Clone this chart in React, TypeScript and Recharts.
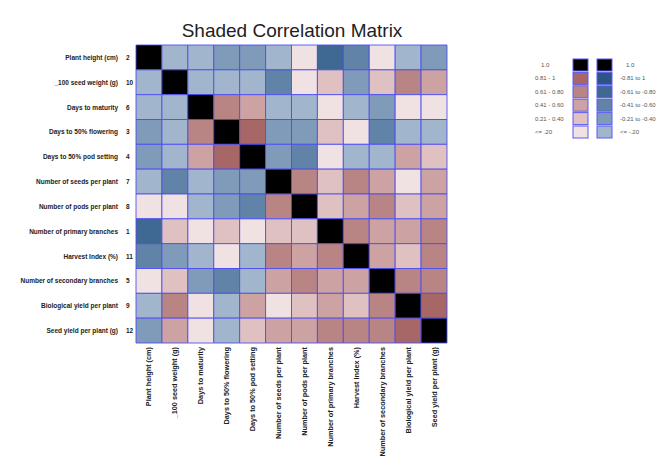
import { ScatterChart, Scatter, XAxis, YAxis, ReferenceArea } from "recharts";

const traits = [
  "Plant height (cm)",
  "_100 seed weight (g)",
  "Days to maturity",
  "Days to 50% flowering",
  "Days to 50% pod setting",
  "Number of seeds per plant",
  "Number of pods per plant",
  "Number of primary branches",
  "Harvest Index (%)",
  "Number of secondary branches",
  "Biological yield per plant",
  "Seed yield per plant (g)",
];
const traitCodes = [2, 10, 6, 3, 4, 7, 8, 1, 11, 5, 9, 12];

// correlations estimated from the shade class of each cell
const corr = [
  [1, -0.12, -0.12, -0.3, -0.3, -0.12, 0.12, -0.7, -0.5, 0.12, -0.12, -0.3],
  [-0.12, 1, -0.12, -0.12, -0.12, -0.5, 0.12, 0.3, -0.3, 0.3, 0.7, 0.5],
  [-0.12, -0.12, 1, 0.7, 0.5, -0.12, -0.12, 0.12, -0.12, -0.3, 0.12, 0.12],
  [-0.3, -0.12, 0.7, 1, 0.85, -0.3, -0.3, 0.3, 0.12, -0.5, -0.12, -0.12],
  [-0.3, -0.12, 0.5, 0.85, 1, -0.3, -0.5, 0.12, -0.12, -0.12, 0.5, 0.3],
  [-0.12, -0.5, -0.12, -0.3, -0.3, 1, 0.7, 0.3, 0.7, 0.5, 0.12, 0.5],
  [0.12, 0.12, -0.12, -0.3, -0.5, 0.7, 1, 0.3, 0.5, 0.7, 0.3, 0.5],
  [-0.7, 0.3, 0.12, 0.3, 0.12, 0.3, 0.3, 1, 0.7, 0.5, 0.5, 0.7],
  [-0.5, -0.3, -0.12, 0.12, -0.12, 0.7, 0.5, 0.7, 1, 0.5, 0.3, 0.7],
  [0.12, 0.3, -0.3, -0.5, -0.12, 0.5, 0.7, 0.5, 0.5, 1, 0.7, 0.7],
  [-0.12, 0.7, 0.12, -0.12, 0.5, 0.12, 0.3, 0.5, 0.3, 0.7, 1, 0.85],
  [-0.3, 0.5, 0.12, -0.12, 0.3, 0.5, 0.5, 0.7, 0.7, 0.7, 0.85, 1],
];

const posLabels = ["1.0", "0.81 - 1", "0.61 - 0.80", "0.41 - 0.60", "0.21 - 0.40", "<= .20"];
const negLabels = ["1.0", "-0.81 to 1", "-0.61 to -0.80", "-0.41 to -0.60", "-0.21 to -0.40", "<= -.20"];
const posColors = ["#000000", "#a86767", "#b98484", "#cca2a2", "#dfc1c1", "#f0e1e2"];
const negColors = ["#000000", "#2c5583", "#3f6992", "#6183a8", "#809bba", "#a1b5cc"];

const edges = [0.8, 0.6, 0.4, 0.2];

function shade(r: number) {
  if (r >= 0.999) return "#000000";
  const a = Math.abs(r);
  let k = 5;
  for (let i = 0; i < edges.length; i++) {
    if (a > edges[i]) {
      k = i + 1;
      break;
    }
  }
  return r >= 0 ? posColors[k] : negColors[k];
}

const cells = corr.flatMap((row, i) => row.map((r, j) => ({ x: j + 0.5, y: i + 0.5, r, i, j })));
const ticks = traits.map((_, i) => i + 0.5);

const labelFont = "'Liberation Sans', Arial, sans-serif";

function RowTick(props: any) {
  const { x, y, payload } = props;
  const idx = Math.floor(payload.value);
  return (
    <g>
      <text x={x - 18} y={y} textAnchor="end" dominantBaseline="central" fontSize={6.5} fontWeight="bold" fill="#222" fontFamily={labelFont}>
        {traits[idx]}
      </text>
      <text x={x - 10} y={y} textAnchor="start" dominantBaseline="central" fontSize={6.5} fontWeight="bold" fill="#222" fontFamily={labelFont}>
        {traitCodes[idx]}
      </text>
    </g>
  );
}

function ColTick(props: any) {
  const { x, y, payload } = props;
  const idx = Math.floor(payload.value);
  return (
    <text
      transform={`translate(${x},${y}) rotate(-90)`}
      textAnchor="end"
      dominantBaseline="central"
      fontSize={7.3}
      fontWeight="bold"
      fill="#222"
      fontFamily={labelFont}
    >
      {traits[idx]}
    </text>
  );
}

function ShadeLegend() {
  const top = 65;
  const step = 13.4;
  return (
    <svg width={659} height={160} style={{ position: "absolute", left: 0, top: 0 }}>
      {posLabels.map((lab, i) => (
        <g key={i}>
          <text x={i === 0 ? 541 : 535} y={top + i * step} dominantBaseline="central" fontSize={6} fill="#555" fontFamily={labelFont}>
            {lab}
          </text>
          <rect x={573} y={top + i * step - 6} width={15} height={12} fill={posColors[i]} stroke="#5a5af5" strokeWidth={1} />
          <rect x={597} y={top + i * step - 6} width={15} height={12} fill={negColors[i]} stroke="#5a5af5" strokeWidth={1} />
          <text x={i === 0 ? 626 : 620} y={top + i * step} dominantBaseline="central" fontSize={6} fill="#555" fontFamily={labelFont}>
            {negLabels[i]}
          </text>
        </g>
      ))}
    </svg>
  );
}

export default function App() {
  return (
    <div style={{ position: "relative", width: 659, height: 470, fontFamily: labelFont }}>
      <style>{`body { margin: 0; }`}</style>
      <div style={{ position: "absolute", left: 8, top: 8, width: 643, height: 452 }}>
        <div
          style={{
            position: "absolute",
            left: 0,
            top: 12,
            width: 568,
            textAlign: "center",
            fontSize: 19,
            color: "#222",
            fontFamily: labelFont,
            zIndex: 2,
          }}
        >
          Shaded Correlation Matrix
        </div>
        <ScatterChart width={643} height={452} margin={{ top: 37, right: 204, bottom: 0, left: 0 }}>
          <XAxis
            type="number"
            dataKey="x"
            domain={[0, 12]}
            ticks={ticks}
            interval={0}
            axisLine={false}
            tickLine={false}
            tickSize={0}
            tickMargin={4}
            height={117}
            tick={<ColTick />}
          />
          <YAxis
            type="number"
            dataKey="y"
            domain={[0, 12]}
            reversed
            ticks={ticks}
            interval={0}
            axisLine={false}
            tickLine={false}
            tickSize={0}
            tickMargin={0}
            width={128}
            tick={<RowTick />}
          />
          {cells.map((c) => (
            <ReferenceArea
              key={`${c.i}-${c.j}`}
              x1={c.j}
              x2={c.j + 1}
              y1={c.i}
              y2={c.i + 1}
              fill={shade(c.r)}
              fillOpacity={1}
              stroke="#4a4af2"
              strokeOpacity={0.85}
              strokeWidth={1}
              ifOverflow="visible"
            />
          ))}
          <Scatter data={cells} isAnimationActive={false} shape={() => <g />} />
        </ScatterChart>
      </div>
      <ShadeLegend />
    </div>
  );
}
